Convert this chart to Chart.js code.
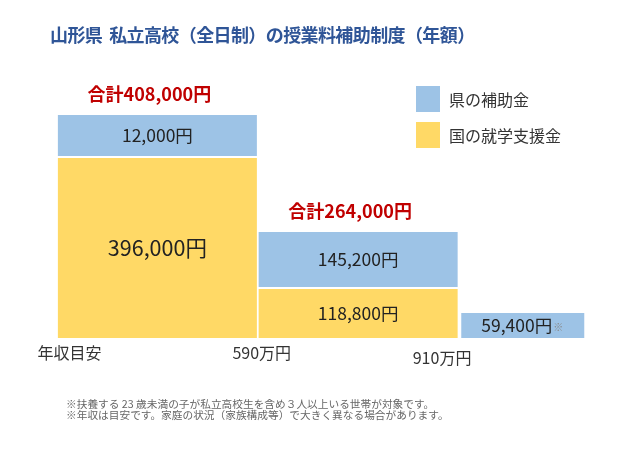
<!DOCTYPE html>
<html lang="ja">
<head>
<meta charset="utf-8">
<script src="https://cdn.jsdelivr.net/npm/chart.js@4"></script>
<style>
  body { margin: 0; background: #fff; font-family: "Noto Sans CJK JP", "Noto Sans", sans-serif; }
  #wrap { position: relative; width: 640px; height: 460px; overflow: hidden; }
  #myChart { position: absolute; left: 0; top: 0; }
  #title { position: absolute; left: 50px; top: 21px; font-size: 18px; font-weight: bold; color: #2f5597; white-space: nowrap; letter-spacing: -0.6px; }
  .leg { position: absolute; left: 416px; height: 26px; line-height: 26px; font-size: 16px; color: #333; white-space: nowrap; }
  .leg span { display: inline-block; width: 24px; height: 26px; vertical-align: top; margin-right: 9px; }
  #notes { position: absolute; left: 66px; top: 398px; font-size: 10.7px; line-height: 11px; color: #666; white-space: nowrap; }
</style>
</head>
<body>
<div id="wrap">
  <canvas id="myChart" width="640" height="460"></canvas>
  <div id="title">山形県&nbsp;&nbsp;私立高校（全日制）の授業料補助制度（年額）</div>
  <div class="leg" style="top:86px"><span style="background:#9dc3e6"></span>県の補助金</div>
  <div class="leg" style="top:122px"><span style="background:#ffd966"></span>国の就学支援金</div>
  <div id="notes">※扶養する 23 歳未満の子が私立高校生を含め３人以上いる世帯が対象です。<br>※年収は目安です。家庭の状況（家族構成等）で大きく異なる場合があります。</div>
</div>
<script>
// amounts (yen) per income bracket
var nationalAid = [396000, 118800];
var prefAid = [12000, 145200, 59400];

// the original is drawn schematically (not to scale): segment heights as seen in the picture
var nationalHeight = [182, 51];
var prefHeight = [43, 57, 27];

// brackets along a "slot" axis: centre of each column
var bracketPos = [0.5, 1.5, 2.32];

// income labels under the columns
var incomeLabels = ['年収目安', '590万円', '910万円'];
var incomeTickPos = [0.062, 1.02, 1.918];

var BLUE = '#9dc3e6';
var YELLOW = '#ffd966';
var FONT = '"Noto Sans CJK JP", "Noto Sans", sans-serif';

function yen(v) {
  return String(v).replace(/\B(?=(\d{3})+(?!\d))/g, ',') + '円';
}

function points(heights, amounts, from) {
  var out = [];
  for (var i = 0; i < heights.length; i++) {
    out.push({ x: bracketPos[from + i], y: heights[i], amount: amounts[i] });
  }
  return out;
}

var labelPlugin = {
  id: 'segmentLabels',
  afterDatasetsDraw: function(chart) {
    var ctx = chart.ctx;
    ctx.save();
    ctx.textAlign = 'center';
    ctx.textBaseline = 'middle';

    // value inside each segment
    chart.data.datasets.forEach(function(ds, di) {
      var meta = chart.getDatasetMeta(di);
      meta.data.forEach(function(el, i) {
        var h = el.base - el.y;
        var cy = (el.y + el.base) / 2;
        var txt = yen(ds.data[i].amount);
        ctx.font = (h > 100 ? '21.5px ' : '17.5px ') + FONT;
        ctx.fillStyle = '#222';
        if (ds.note) {
          var w = ctx.measureText(txt).width;
          ctx.font = '10px ' + FONT;
          var nw = ctx.measureText('※').width;
          var x0 = el.x - (w + nw) / 2 - 1;
          ctx.textAlign = 'left';
          ctx.font = '17.5px ' + FONT;
          ctx.fillText(txt, x0, cy);
          ctx.font = '10px ' + FONT;
          ctx.fillStyle = '#888';
          ctx.fillText('※', x0 + w + 1, cy + 2);
          ctx.textAlign = 'center';
        } else {
          ctx.fillText(txt, el.x, cy);
        }
      });
    });

    // totals above the stacked columns
    var top = chart.getDatasetMeta(1);
    ctx.font = 'bold 18px ' + FONT;
    ctx.fillStyle = '#c00000';
    for (var i = 0; i < nationalAid.length; i++) {
      var el = top.data[i];
      ctx.fillText('合計' + yen(nationalAid[i] + prefAid[i]), el.x - 8, el.y - 20);
    }

    // income labels
    var xs = chart.scales.x;
    ctx.font = '16px ' + FONT;
    ctx.fillStyle = '#333';
    for (var k = 0; k < incomeLabels.length; k++) {
      ctx.fillText(incomeLabels[k], xs.getPixelForValue(incomeTickPos[k]), k == 2 ? 358 : 353);
    }
    ctx.restore();
  }
};

var common = {
  borderColor: '#ffffff',
  borderWidth: 1,
  borderSkipped: false,
  inflateAmount: 0
};

var chart = new Chart(document.getElementById('myChart'), {
  type: 'bar',
  data: {
    datasets: [
      Object.assign({
        label: '国の就学支援金',
        data: points(nationalHeight, nationalAid, 0),
        backgroundColor: YELLOW,
        barThickness: 201
      }, common),
      Object.assign({
        label: '県の補助金',
        data: points(prefHeight.slice(0, 2), prefAid.slice(0, 2), 0),
        backgroundColor: BLUE,
        barThickness: 201
      }, common),
      Object.assign({
        label: '県の補助金',
        data: points(prefHeight.slice(2), prefAid.slice(2), 2),
        backgroundColor: BLUE,
        barThickness: 125,
        note: true
      }, common)
    ]
  },
  options: {
    responsive: false,
    animation: false,
    events: [],
    layout: {
      padding: { left: 57, right: 55, top: 60, bottom: 121 }
    },
    scales: {
      x: { type: 'linear', min: 0, max: 2.63, offset: false, stacked: true, display: false },
      y: { min: 0, max: 279, stacked: true, display: false }
    },
    plugins: {
      legend: { display: false },
      title: { display: false },
      tooltip: { enabled: false }
    }
  },
  plugins: [labelPlugin]
});
</script>
</body>
</html>
